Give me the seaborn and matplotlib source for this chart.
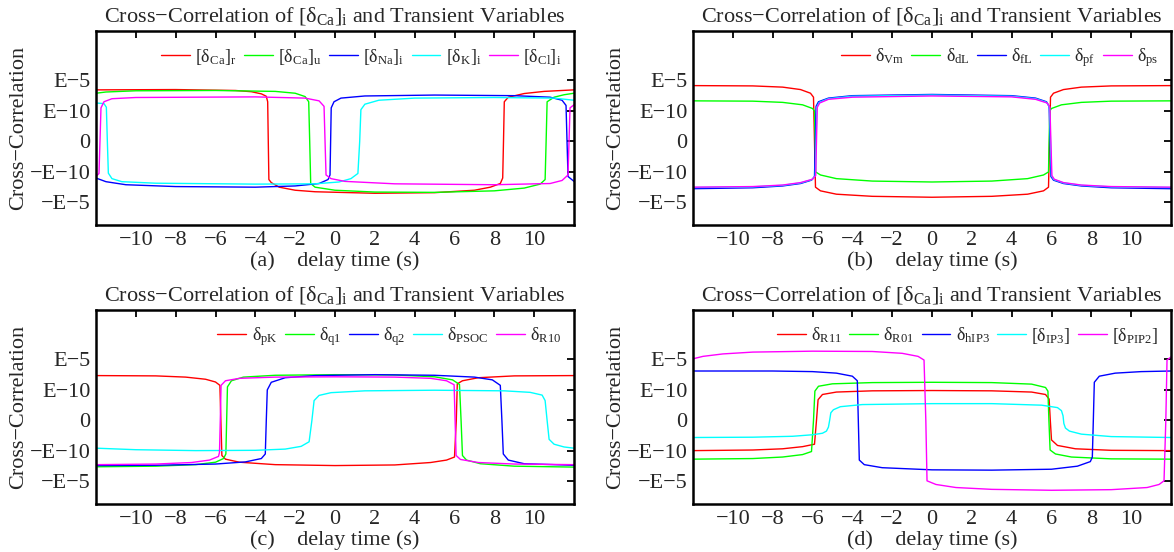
import numpy as np
import pandas as pd
import matplotlib
matplotlib.use("Agg")
import matplotlib.pyplot as plt
import seaborn as sns

# ---------------- data (y in axis units: 1 = E-10, 2 = E-5, sign = sign of correlation) --------------
# Panel (a)
A_CAR_X = [-12, -8, -5, -4.2, -3.7, -3.45, -3.38, -3.35, -3.32, -3.2, -2.8, -2, -1, 2, 5, 7, 7.8, 8.3, 8.42, 8.46, 8.5, 8.7, 9.5, 10.5, 12]
A_CAR_Y = [1.69, 1.70, 1.67, 1.63, 1.56, 1.48, 1.3, 0, -1.25, -1.35, -1.5, -1.6, -1.65, -1.70, -1.68, -1.6, -1.5, -1.38, -1.2, 0, 1.3, 1.45, 1.57, 1.64, 1.69]
A_CAU_X = [-12, -11.5, -10, -6, -3, -2, -1.5, -1.32, -1.27, -1.22, -1.0, 0, 2, 5, 8, 9.5, 10.3, 10.55, 10.6, 10.65, 11, 11.5, 12]
A_CAU_Y = [1.58, 1.62, 1.66, 1.67, 1.64, 1.58, 1.47, 1.3, 0, -1.38, -1.5, -1.6, -1.66, -1.67, -1.62, -1.53, -1.4, -1.25, 0, 1.3, 1.45, 1.53, 1.58]
A_NA_X = [-12, -11.5, -10.5, -8, -4, -2, -0.8, -0.35, -0.25, -0.22, -0.19, -0.05, 0.3, 1.5, 5, 9, 10.8, 11.4, 11.6, 11.65, 11.7, 12]
A_NA_Y = [-1.2, -1.32, -1.42, -1.48, -1.5, -1.46, -1.38, -1.25, -1.1, 0, 1.1, 1.3, 1.42, 1.49, 1.52, 1.5, 1.45, 1.35, 1.18, 0, -1.15, -1.31]
A_K_X = [-12, -11.6, -11.48, -11.43, -11.38, -11.2, -10.7, -9, -4, -1, 0.2, 0.8, 1.15, 1.24, 1.3, 1.5, 2.2, 4, 8, 11, 12]
A_K_Y = [1.26, 1.24, 1.12, 0, -1.04, -1.22, -1.32, -1.37, -1.4, -1.39, -1.33, -1.22, -1.05, 0, 1.04, 1.22, 1.35, 1.42, 1.44, 1.42, 1.35]
A_CL_X = [-12, -11.85, -11.8, -11.75, -11.6, -11.2, -10, -4, -1.5, -0.8, -0.55, -0.5, -0.45, -0.2, 0.5, 3, 8, 10.8, 11.4, 11.7, 11.75, 11.8, 12]
A_CL_Y = [-1.15, -1.05, 0, 1.1, 1.3, 1.4, 1.44, 1.46, 1.42, 1.33, 1.15, 0, -1.1, -1.22, -1.31, -1.39, -1.42, -1.38, -1.28, -1.1, 0, 1.1, 1.2]

# Panel (b)
B_VM_X = [-12, -9, -7.5, -6.6, -6.1, -5.95, -5.9, -5.85, -5.6, -4.8, -3, 0, 3, 4.8, 5.6, 5.85, 5.9, 5.95, 6.1, 6.6, 7.5, 9, 12]
B_VM_Y = [1.83, 1.82, 1.78, 1.7, 1.58, 1.45, 0, -1.5, -1.62, -1.73, -1.8, -1.83, -1.8, -1.73, -1.62, -1.5, 0, 1.45, 1.58, 1.7, 1.78, 1.82, 1.83]
B_DL_X = [-12, -9, -7.5, -6.5, -6.0, -5.9, -5.87, -5.84, -5.6, -4.8, -3, 0, 3, 4.8, 5.6, 5.85, 5.88, 5.91, 6.0, 6.5, 7.5, 9, 12]
B_DL_Y = [1.33, 1.32, 1.28, 1.2, 1.08, 1.0, 0, -1.0, -1.1, -1.22, -1.3, -1.33, -1.3, -1.22, -1.1, -1.0, 0, 1.0, 1.08, 1.2, 1.28, 1.32, 1.33]
B_FL_X = [-12, -9, -7.5, -6.6, -6.05, -5.9, -5.86, -5.82, -5.7, -5.2, -4, 0, 4, 5.2, 5.75, 5.88, 5.93, 5.97, 6.1, 6.6, 7.5, 9, 12]
B_FL_Y = [-1.55, -1.52, -1.46, -1.38, -1.27, -1.15, 0, 1.15, 1.3, 1.42, 1.5, 1.54, 1.5, 1.42, 1.3, 1.15, 0, -1.15, -1.27, -1.38, -1.46, -1.52, -1.55]
B_PF_X = [-12, -9, -7.5, -6.6, -6.02, -5.86, -5.82, -5.78, -5.66, -5.2, -4, 0, 4, 5.2, 5.75, 5.9, 5.95, 6.0, 6.12, 6.6, 7.5, 9, 12]
B_PF_Y = [-1.51, -1.49, -1.44, -1.36, -1.25, -1.13, 0, 1.13, 1.28, 1.4, 1.48, 1.52, 1.48, 1.4, 1.28, 1.13, 0, -1.13, -1.25, -1.36, -1.44, -1.49, -1.51]
B_PS_X = [-12, -9, -7.5, -6.6, -6.0, -5.84, -5.8, -5.76, -5.64, -5.2, -4, 0, 4, 5.2, 5.78, 5.92, 5.97, 6.02, 6.14, 6.6, 7.5, 9, 12]
B_PS_Y = [-1.5, -1.48, -1.43, -1.35, -1.24, -1.12, 0, 1.12, 1.26, 1.38, 1.45, 1.49, 1.46, 1.38, 1.26, 1.12, 0, -1.12, -1.24, -1.35, -1.43, -1.48, -1.5]

# Panel (c)
C_PK_X = [-12, -9, -7.5, -6.5, -6.0, -5.78, -5.73, -5.68, -5.5, -4.8, -3, 0, 3, 4.8, 5.6, 6.0, 6.09, 6.14, 6.4, 7.2, 9, 12]
C_PK_Y = [1.47, 1.46, 1.42, 1.35, 1.26, 1.15, 0, -1.15, -1.27, -1.37, -1.45, -1.48, -1.46, -1.38, -1.3, -1.2, 0, 1.2, 1.3, 1.4, 1.46, 1.47]
C_Q1_X = [-12, -9, -7, -6, -5.6, -5.48, -5.44, -5.4, -5.2, -4.6, -3, 0, 3, 5, 5.9, 6.25, 6.33, 6.4, 6.6, 7.3, 9, 12]
C_Q1_Y = [-1.52, -1.5, -1.45, -1.37, -1.25, -1.1, 0, 1.1, 1.3, 1.42, 1.48, 1.5, 1.49, 1.43, 1.33, 1.18, 0, -1.15, -1.3, -1.42, -1.5, -1.53]
C_Q2_X = [-12, -9, -6, -4.5, -3.7, -3.5, -3.45, -3.4, -3.2, -2.5, -1, 2, 5, 7, 7.9, 8.3, 8.38, 8.45, 8.7, 9.5, 12]
C_Q2_Y = [-1.48, -1.47, -1.43, -1.36, -1.25, -1.1, 0, 1.0, 1.25, 1.4, 1.47, 1.5, 1.48, 1.42, 1.33, 1.15, 0, -1.1, -1.3, -1.42, -1.47]
C_PSOC_X = [-12, -10, -7, -4, -2.5, -1.7, -1.3, -1.16, -1.05, -0.8, -0.2, 1.5, 5, 8.5, 9.8, 10.4, 10.55, 10.65, 10.75, 11.0, 11.5, 12]
C_PSOC_Y = [-0.91, -0.96, -0.99, -0.98, -0.94, -0.85, -0.7, 0, 0.65, 0.82, 0.91, 0.97, 0.99, 0.97, 0.92, 0.83, 0.65, 0, -0.62, -0.78, -0.87, -0.91]
C_R10_X = [-12, -9, -7.2, -6.3, -5.85, -5.8, -5.76, -5.72, -5.5, -4.8, -3, 0, 3, 4.8, 5.6, 5.98, 6.03, 6.08, 6.3, 7.2, 9, 12]
C_R10_Y = [-1.45, -1.43, -1.38, -1.3, -1.18, -1.05, 0, 1.15, 1.3, 1.38, 1.42, 1.43, 1.42, 1.38, 1.3, 1.17, 0, -1.15, -1.28, -1.38, -1.43, -1.45]

# Panel (d)
D_R11_X = [-12, -9, -7.5, -6.5, -5.9, -5.8, -5.72, -5.5, -4.8, -3, 0, 3, 5, 5.7, 5.88, 5.94, 6.0, 6.3, 7.2, 9, 12]
D_R11_Y = [-0.99, -0.97, -0.93, -0.86, -0.78, 0, 0.68, 0.85, 0.93, 0.97, 0.98, 0.97, 0.93, 0.85, 0.7, 0, -0.64, -0.82, -0.93, -0.98, -0.99]
D_R01_X = [-12, -9, -7.5, -6.5, -6.05, -5.95, -5.88, -5.7, -5, -3, 0, 3, 5, 5.7, 5.82, 5.87, 5.93, 6.2, 7, 9, 12]
D_R01_Y = [-1.27, -1.25, -1.2, -1.12, -1.02, 0, 0.96, 1.12, 1.2, 1.24, 1.25, 1.24, 1.19, 1.08, 0.96, 0, -0.97, -1.1, -1.2, -1.26, -1.27]
D_HIP3_X = [-12, -8, -6, -4.8, -4.0, -3.75, -3.7, -3.65, -3.4, -2.5, 0, 3, 6, 7.3, 7.95, 8.05, 8.1, 8.15, 8.4, 9.2, 10.5, 12]
D_HIP3_Y = [1.62, 1.62, 1.6, 1.55, 1.45, 1.3, 0, -1.3, -1.45, -1.55, -1.62, -1.63, -1.6, -1.5, -1.35, -1.2, 0, 1.25, 1.45, 1.55, 1.6, 1.62]
D_IP3_X = [-12, -9, -7, -6, -5.5, -5.3, -5.2, -5.14, -5.08, -4.95, -4.6, -3.5, 0, 3, 5.5, 6.3, 6.5, 6.58, 6.62, 6.7, 6.9, 7.5, 9, 12]
D_IP3_Y = [-0.56, -0.55, -0.52, -0.47, -0.42, -0.35, -0.22, 0, 0.25, 0.35, 0.45, 0.52, 0.55, 0.55, 0.5, 0.42, 0.32, 0.15, -0.1, -0.25, -0.35, -0.45, -0.53, -0.56]
D_PIP2_X = [-12, -11.5, -10.5, -9, -6, -3, -1.5, -0.7, -0.4, -0.31, -0.25, 0.2, 1.2, 3, 6, 9, 10.8, 11.4, 11.65, 11.74, 11.8, 12]
D_PIP2_Y = [2.02, 2.1, 2.18, 2.24, 2.27, 2.26, 2.2, 2.1, 1.98, 0, -1.98, -2.1, -2.2, -2.26, -2.29, -2.27, -2.2, -2.1, -1.98, 0, 1.98, 2.08]

LABELS_A = [r"[δ$_{\mathrm{Ca}}$]$_{\mathrm{r}}$", r"[δ$_{\mathrm{Ca}}$]$_{\mathrm{u}}$", r"[δ$_{\mathrm{Na}}$]$_{\mathrm{i}}$",
            r"[δ$_{\mathrm{K}}$]$_{\mathrm{i}}$", r"[δ$_{\mathrm{Cl}}$]$_{\mathrm{i}}$"]
LABELS_B = [r"δ$_{\mathrm{Vm}}$", r"δ$_{\mathrm{dL}}$", r"δ$_{\mathrm{fL}}$", r"δ$_{\mathrm{pf}}$", r"δ$_{\mathrm{ps}}$"]
LABELS_C = [r"δ$_{\mathrm{pK}}$", r"δ$_{\mathrm{q1}}$", r"δ$_{\mathrm{q2}}$", r"δ$_{\mathrm{PSOC}}$", r"δ$_{\mathrm{R10}}$"]
LABELS_D = [r"δ$_{\mathrm{R11}}$", r"δ$_{\mathrm{R01}}$", r"δ$_{\mathrm{hIP3}}$", r"[δ$_{\mathrm{IP3}}$]", r"[δ$_{\mathrm{PIP2}}$]"]

PANEL_TAGS = ["(a)", "(b)", "(c)", "(d)"]
X_TICKS = [-10, -8, -6, -4, -2, 0, 2, 4, 6, 8, 10]
Y_TICKS = [-2, -1, 0, 1, 2]
Y_TICKLABELS = ["−E−5", "−E−10", "0", "E−10", "E−5"]

SERIES = [
    [(A_CAR_X, A_CAR_Y), (A_CAU_X, A_CAU_Y), (A_NA_X, A_NA_Y), (A_K_X, A_K_Y), (A_CL_X, A_CL_Y)],
    [(B_VM_X, B_VM_Y), (B_DL_X, B_DL_Y), (B_FL_X, B_FL_Y), (B_PF_X, B_PF_Y), (B_PS_X, B_PS_Y)],
    [(C_PK_X, C_PK_Y), (C_Q1_X, C_Q1_Y), (C_Q2_X, C_Q2_Y), (C_PSOC_X, C_PSOC_Y), (C_R10_X, C_R10_Y)],
    [(D_R11_X, D_R11_Y), (D_R01_X, D_R01_Y), (D_HIP3_X, D_HIP3_Y), (D_IP3_X, D_IP3_Y), (D_PIP2_X, D_PIP2_Y)],
]
LABELS = [LABELS_A, LABELS_B, LABELS_C, LABELS_D]
COLORS = ["#ff0000", "#00ff00", "#0000ff", "#00ffff", "#ff00ff"]

# ---------------- style ----------------
sns.set_theme(style="white")
plt.rcParams["font.family"] = ["Liberation Serif", "DejaVu Serif"]
plt.rcParams["mathtext.fontset"] = "custom"
plt.rcParams["mathtext.rm"] = "Liberation Serif"
plt.rcParams["mathtext.it"] = "Liberation Serif:italic"
plt.rcParams["axes.unicode_minus"] = True

fig = plt.figure(figsize=(11.74, 5.52), dpi=100)
W, H = 1174.0, 552.0
boxes = [(96, 31), (693, 31), (96, 310), (693, 310)]
aw, ah = 478, 194

title = r"Cross$-$Correlation of [δ$_{\mathrm{Ca}}$]$_{\mathrm{i}}$ and Transient Variables"

for p in range(4):
    x0, y0 = boxes[p]
    ax = fig.add_axes([x0 / W, 1 - (y0 + ah) / H, aw / W, ah / H])
    rows = []
    for k, (xs, ys) in enumerate(SERIES[p]):
        for xv, yv in zip(xs, ys):
            rows.append((LABELS[p][k], xv, yv))
    df = pd.DataFrame(rows, columns=["series", "delay", "corr"])
    sns.lineplot(data=df, x="delay", y="corr", hue="series", hue_order=LABELS[p],
                 palette=COLORS, estimator=None, sort=False, legend=False,
                 linewidth=1.0, ax=ax)
    ax.set_xlim(-12, 12)
    ax.set_ylim(-2.74, 3.62)
    ax.set_xticks(X_TICKS)
    ax.set_yticks(Y_TICKS)
    ax.set_yticklabels(Y_TICKLABELS)
    ax.tick_params(direction="in", top=True, right=True, length=5, width=1.3,
                   labelsize=16, pad=4, color="black")
    for s in ax.spines.values():
        s.set_linewidth(1.8)
        s.set_color("black")
    ax.set_xlabel(PANEL_TAGS[p] + "    delay time (s)", fontsize=16, labelpad=1)
    ax.set_ylabel("Cross−Correlation", fontsize=16, labelpad=1)
    ax.set_title(title, fontsize=16, pad=7)
    ax.legend(ax.get_lines(), LABELS[p], loc="upper right", ncol=5, frameon=False,
              fontsize=13, handlelength=1.6, handletextpad=0.3, columnspacing=0.4,
              borderaxespad=0.3, bbox_to_anchor=(1.0, 0.985))

fig.savefig("out.png", dpi=100)
